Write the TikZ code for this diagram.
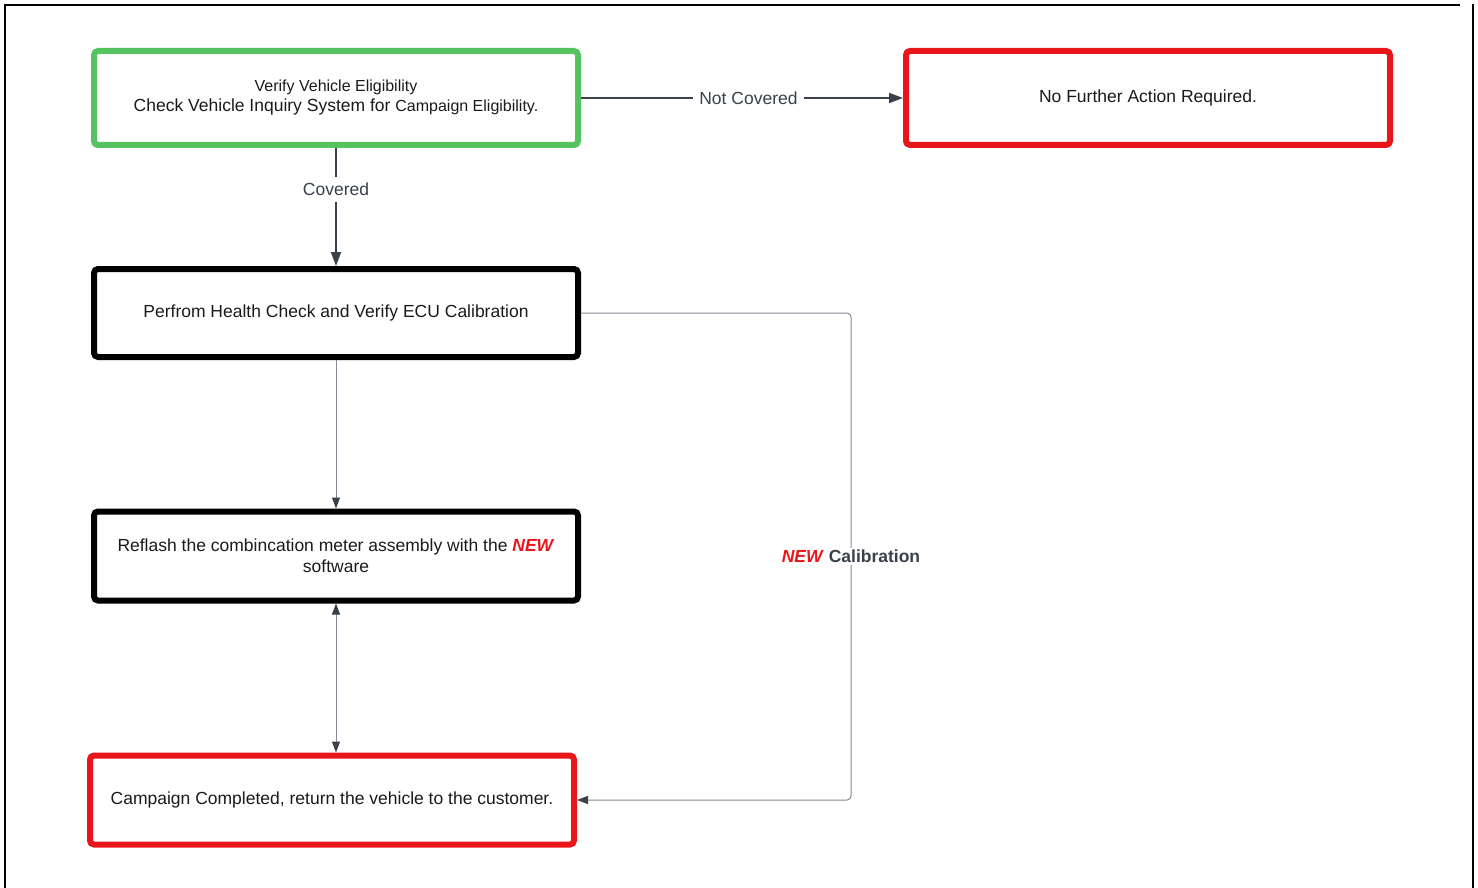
\documentclass[tikz,border=0pt]{standalone}
\usepackage{fontspec}
\setmainfont{Liberation Sans}
\usetikzlibrary{arrows.meta}
\definecolor{boxgreen}{HTML}{55C35F}
\definecolor{boxred}{HTML}{E8161B}
\definecolor{conndark}{HTML}{3A414A}
\definecolor{conngray}{HTML}{858B94}
\definecolor{txt}{HTML}{1A1A1A}
\tikzset{
  basebox/.style={draw, rounded corners=4pt, line width=6pt, align=center, text=txt,
    minimum width=484pt, font=\fontsize{17.5}{21}\selectfont, inner sep=0pt},
  greenbox/.style={basebox, draw=boxgreen},
  redbox/.style={basebox, draw=boxred},
  blackbox/.style={basebox, draw=black},
  thickconn/.style={draw=conndark, line width=2pt, -{Triangle[length=14pt,width=10pt]}},
  thinconn/.style={draw=conngray, line width=1pt, -{Triangle[length=11pt,width=8pt,color=conndark]}},
  connlabel/.style={fill=white, text=conndark, font=\fontsize{17.5}{21}\selectfont, inner xsep=6pt, inner ysep=3pt},
}
\begin{document}
\begin{tikzpicture}[x=1pt,y=-1pt]
\useasboundingbox (0,0) rectangle (1478,888);
% frame
\draw[line width=2pt] (5,888) -- (5,5) -- (1460,5);
\draw[line width=2pt] (1473,4) -- (1473,888);

\node[greenbox, minimum height=94pt] (elig) at (336,98)
  {{\fontsize{16}{20}\selectfont Verify Vehicle Eligibility}\\[-1pt]
   Check Vehicle Inquiry System for {\fontsize{16}{20}\selectfont Campaign Eligibility.}};
\node[redbox, minimum height=94pt] (noact) at (1148,98) {No Further Action Required.};
\node[blackbox, minimum height=88pt] (health) at (336,313) {Perfrom Health Check and Verify ECU Calibration};
\node[blackbox, minimum height=89pt] (reflash) at (336,556)
  {Reflash the combincation meter assembly with the \textcolor{boxred}{\textbf{\textit{NEW}}}\\software};
\node[redbox, minimum height=89pt] (done) at (332,800) {Campaign Completed, return the vehicle to the customer.};

\coordinate (c1) at (851,313);
\coordinate (c2) at (851,800);

\draw[thickconn] (elig.east) -- node[connlabel, pos=0.52] (lnc) {Not Covered} (noact.west);
\draw[thickconn] (elig.south) -- node[connlabel, pos=0.35, inner xsep=3pt, inner ysep=6pt] (lcov) {Covered} (health.north);
\draw[thinconn] (health.south) -- (reflash.north);
\draw[thinconn, {Triangle[length=11pt,width=8pt,color=conndark]}-{Triangle[length=11pt,width=8pt,color=conndark]}] (reflash.south) -- (reflash.south |- done.north);
\draw[thinconn, rounded corners=4pt] (health.east) -- (c1) -- node[connlabel, pos=0.5, font=\fontsize{17.5}{21}\selectfont\bfseries, inner sep=2pt] (lcal) {\textcolor{boxred}{\textit{NEW}} Calibration} (c2) -- (done.east);
\end{tikzpicture}
\end{document}
